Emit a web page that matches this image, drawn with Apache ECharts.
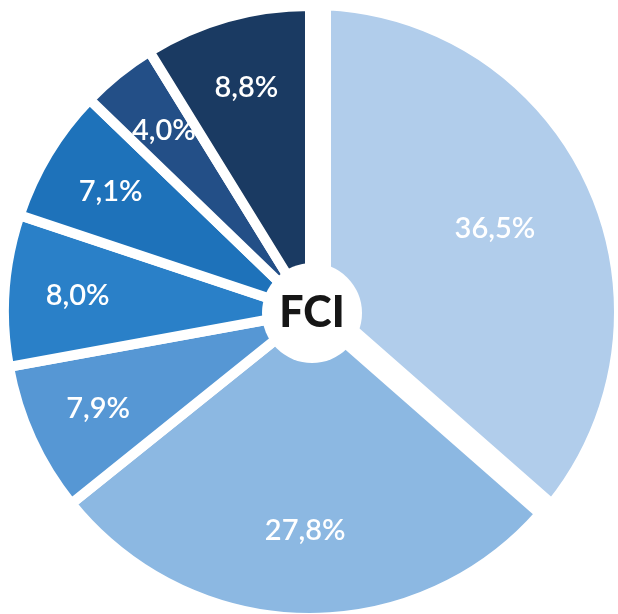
<!DOCTYPE html>
<html><head><meta charset="utf-8">
<script src="https://cdn.jsdelivr.net/npm/echarts@6/dist/echarts.min.js"></script>
<style>html,body{margin:0;padding:0;background:#fff}#c{width:618px;height:614px}</style>
</head><body><div id="c"></div>
<script>
// ---- data ----
const shares = [36.5, 27.8, 7.9, 8.0, 7.1, 4.0, 8.8];
const sliceNames = ['s1', 's2', 's3', 's4', 's5', 's6', 's7'];
const centerText = 'FCI';

// ---- styles ----
const palette = ['#b1cdeb', '#8cb8e2', '#5697d4', '#2a80c8', '#1e72ba', '#234f87', '#1a3a62'];
const C = [310, 312];
const R = 306;
const fmt = v => v.toFixed(1).replace('.', ',') + '%';
const labelFont = { color: '#fff', fontFamily: 'Lato', fontSize: 29, fontWeight: 600 };

const T = { color: 'transparent', borderWidth: 0 };
const rest = shares.slice(1).reduce((a, b) => a + b, 0);

// main ring (all but first slice)
const mainData = shares.map((v, i) => ({
  name: sliceNames[i], value: v,
  itemStyle: i === 0 ? T : { color: palette[i], borderColor: '#fff', borderWidth: 10 }
}));

// first slice with wider white gap
const bigData = [
  { name: sliceNames[0], value: shares[0], itemStyle: { color: palette[0], borderColor: '#fff', borderWidth: 38 } },
  { name: 'rest', value: rest, itemStyle: T }
];

function labelSeries(r0, idxs, z) {
  return {
    type: 'pie', center: [C[0], C[1]], radius: [r0, R - 6], startAngle: 90,
    silent: true, z: z, animation: false, avoidLabelOverlap: false,
    labelLine: { show: false }, emphasis: { disabled: true },
    data: shares.map((v, i) => ({
      name: sliceNames[i], value: v, itemStyle: T,
      label: idxs.includes(i)
        ? Object.assign({ show: true, position: 'inside', formatter: () => fmt(v) }, labelFont)
        : { show: false }
    }))
  };
}

const chart = echarts.init(document.getElementById('c'), null, { renderer: 'canvas' });
chart.setOption({
  backgroundColor: '#fff',
  animation: false,
  series: [
    {
      type: 'pie', center: [312, 312], radius: [0, 321], startAngle: 90, z: 1,
      silent: true, label: { show: false }, labelLine: { show: false },
      emphasis: { disabled: true }, data: bigData
    },
    {
      type: 'pie', center: C, radius: [0, R], startAngle: 90, z: 2,
      silent: true, label: { show: false }, labelLine: { show: false },
      emphasis: { disabled: true }, data: mainData
    },
    {
      type: 'pie', center: [312, 313], radius: [0, 50], z: 3, silent: true,
      emphasis: { disabled: true }, labelLine: { show: false },
      data: [{ name: centerText, value: 1, itemStyle: { color: '#fff' } }],
      label: { show: true, position: 'center', formatter: centerText, color: '#161616',
               fontFamily: 'Lato', fontWeight: 900, fontSize: 43 }
    },
    labelSeries(160, [2, 3, 4, 5, 6], 4),
    labelSeries(132, [1], 4),
    labelSeries(100, [0], 4)
  ]
});
</script></body></html>
